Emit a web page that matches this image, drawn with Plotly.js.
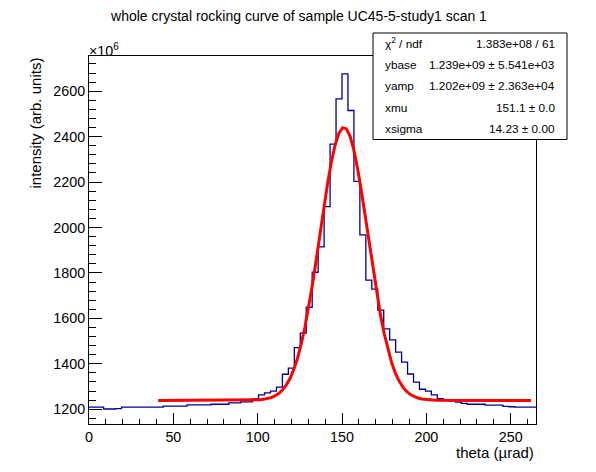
<!DOCTYPE html>
<html><head><meta charset="utf-8">
<script src="https://cdn.plot.ly/plotly-3.0.1.min.js"></script>
<style>html,body{margin:0;padding:0;background:#fff}#chart{width:596px;height:472px}</style>
</head><body><div id="chart"></div>
<script>
// ---- data (intensity in units of 1e6, arb. units) ----
const binWidth = 3.533;          // µrad per histogram bin
const firstBinLow = -1.93;       // low edge of first bin (µrad)
const counts = [
  1209, 1209, 1209, 1201, 1201, 1203, 1209, 1209, 1209, 1209,
  1209, 1209, 1209, 1214, 1214, 1214, 1214, 1219, 1219, 1219,
  1219, 1222, 1222, 1222, 1228, 1228, 1232, 1232, 1245, 1263,
  1272, 1280, 1297, 1354, 1381, 1471, 1535, 1649, 1803, 1915,
  2092, 2367, 2566, 2676, 2515, 2203, 1968, 1768, 1729, 1636,
  1554, 1505, 1451, 1407, 1355, 1319, 1288, 1280, 1263, 1247,
  1241, 1237, 1231, 1226, 1222, 1222, 1222, 1218, 1218, 1218,
  1213, 1211, 1209, 1209, 1209, 1209
];
// fit parameters (gaussian on flat base), units of 1e6
const fitMin = 41, fitMax = 262, fitNpx = 100;
const ybase = 1239, yamp = 1202, xmu = 151.1, xsigma = 14.23;
const statLabels = ["χ<sup>2</sup> / ndf", "ybase", "yamp", "xmu", "xsigma"];
const statValues = ["1.383e+08 / 61", "1.239e+09 ± 5.541e+03", "1.202e+09 ± 2.363e+04", "151.1 ± 0.0", "14.23 ± 0.00"];
const titleText = "whole crystal rocking curve of sample UC45-5-study1 scan 1";
const xTitle = "theta (µrad)";
const yTitle = "intensity (arb. units)";
const yExponent = "×10<sup>6</sup>";

// ---- build traces ----
const histX = [], histY = [];
for (let i = 0; i < counts.length; i++) {
  histX.push(firstBinLow + i * binWidth);
  histY.push(counts[i]);
}
histX.push(firstBinLow + counts.length * binWidth);
histY.push(counts[counts.length - 1]);

const fitX = [], fitY = [];
for (let i = 0; i < fitNpx; i++) {
  const x = fitMin + i * (fitMax - fitMin) / (fitNpx - 1);
  fitX.push(x);
  fitY.push(ybase + yamp * Math.exp(-0.5 * Math.pow((x - xmu) / xsigma, 2)));
}

const FONT = "Liberation Sans, Arial, Helvetica, sans-serif";
const W = 596, H = 472, L = 89, R = 536, T = 56, B = 424;
const xp = px => (px - L) / (R - L);
const yp = py => (B - py) / (B - T);

const traces = [
  {x: histX, y: histY, type: 'scatter', mode: 'lines', line: {shape: 'hv', color: '#000099', width: 1.3}, hoverinfo: 'skip'},
  {x: fitX, y: fitY, type: 'scatter', mode: 'lines', line: {color: '#ff0000', width: 3}, hoverinfo: 'skip'}
];

const boxL = 373, boxR = 567, boxT = 33, boxB = 139.5;
const rowH = (boxB - boxT) / statLabels.length;
const annotations = [];
statLabels.forEach((s, i) => {
  const cy = boxT + rowH * (i + 0.5);
  annotations.push({xref: 'paper', yref: 'paper', x: xp(382.5), y: yp(cy), xanchor: 'left', yanchor: 'middle',
    text: s, showarrow: false, font: {family: FONT, size: 11.8, color: '#000'}});
  annotations.push({xref: 'paper', yref: 'paper', x: xp(556.5), y: yp(cy), xanchor: 'right', yanchor: 'middle',
    text: statValues[i], showarrow: false, font: {family: FONT, size: 11.8, color: '#000'}});
});
annotations.push({xref: 'paper', yref: 'paper', x: xp(R), y: yp(452), xanchor: 'right', yanchor: 'middle',
  text: xTitle, showarrow: false, font: {family: FONT, size: 15, color: '#000'}});
annotations.push({xref: 'paper', yref: 'paper', x: xp(35), y: yp(56), xanchor: 'center', yanchor: 'top', textangle: -90,
  text: yTitle, showarrow: false, font: {family: FONT, size: 15, color: '#000'}});
annotations.push({xref: 'paper', yref: 'paper', x: xp(87), y: yp(50), xanchor: 'left', yanchor: 'middle',
  text: yExponent, showarrow: false, font: {family: FONT, size: 14.3, color: '#000'}});

const layout = {
  width: W, height: H,
  margin: {l: L, r: W - R, t: T, b: H - B, pad: 0},
  paper_bgcolor: '#fff', plot_bgcolor: '#fff',
  showlegend: false,
  title: {text: titleText, x: 299 / W, xanchor: 'center', xref: 'container', y: 1 - 16.5 / H, yanchor: 'middle', yref: 'container',
    font: {family: FONT, size: 14, color: '#000'}},
  xaxis: {range: [0, 265], tick0: 0, dtick: 50, ticks: 'inside', ticklen: 11, tickwidth: 1, tickcolor: '#000',
    showline: true, linecolor: '#000', linewidth: 1, mirror: true, showgrid: false, zeroline: false,
    tickfont: {family: FONT, size: 14.3, color: '#000'},
    minor: {ticks: 'inside', ticklen: 5.5, dtick: 10, tick0: 0, tickcolor: '#000', tickwidth: 1, showgrid: false}},
  yaxis: {range: [1135, 2755], tick0: 0, dtick: 200, ticks: 'inside', ticklen: 13, tickwidth: 1, tickcolor: '#000',
    showline: true, linecolor: '#000', linewidth: 1, mirror: true, showgrid: false, zeroline: false,
    tickfont: {family: FONT, size: 14.3, color: '#000'},
    minor: {ticks: 'inside', ticklen: 6.5, dtick: 40, tick0: 0, tickcolor: '#000', tickwidth: 1, showgrid: false}},
  shapes: [
    {type: 'rect', xref: 'paper', yref: 'paper', x0: xp(boxL), x1: xp(boxR), y0: yp(boxB), y1: yp(boxT),
      fillcolor: '#fff', line: {color: '#000', width: 1}, layer: 'above'}
  ],
  annotations: annotations
};

Plotly.newPlot('chart', traces, layout, {staticPlot: true, displayModeBar: false});
</script>
</body></html>
